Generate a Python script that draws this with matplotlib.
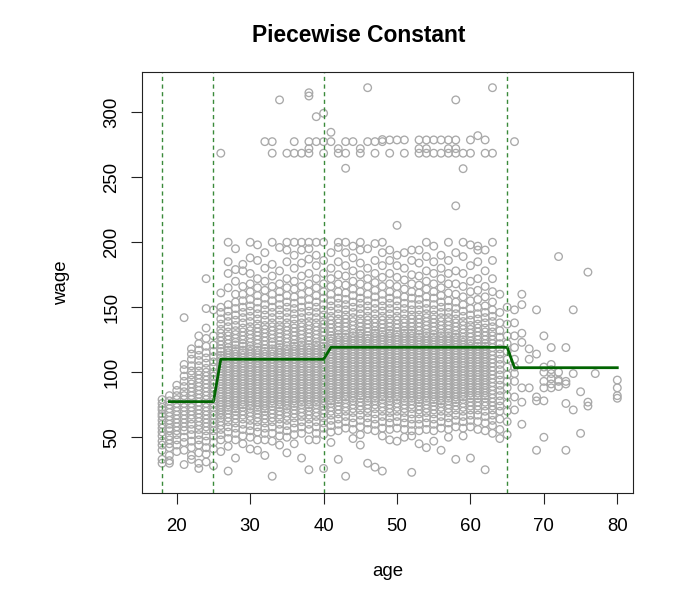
import numpy as np
import matplotlib.pyplot as plt

# CONFIG
OUT_PATH = "out.png"
POINT_COLOR = "darkgrey"
FIT_COLOR = "darkgreen"
KNOT_COLOR = "#3a8a3a"

plt.rcParams["font.family"] = ["Liberation Sans", "DejaVu Sans"]

# 1. STEP FIT (bins are right-closed, levels)
cut_points = [18, 25, 40, 65, 80]
bin_levels = [77.4, 110.0, 119.2, 103.5]
knots = [18, 25, 40, 65]

# 2. POINTS, one string of wages per age column
ages_young = list(range(18, 26))
wages_young = [
    "79 76 73 71 68 66 63 60 57 54 51 47 44 40 33 30",
    "82 78 75 72 69 66 63 60 57 55 51 48 45 42 36 32 30",
    "90 86 82 79 76 73 70 67 64 61 58 55 52 48 44 39",
    "142 106 102 97 93 89 85 82 79 76 73 70 67 64 61 58 55 50 46 40 29",
    "118 114 110 105 101 98 94 91 88 85 82 79 76 73 70 67 64 60 56 52 47 42 36 33",
    "128 122 117 113 109 105 101 98 95 92 89 86 83 80 77 74 71 68 65 62 59 56 52 48 44 38 30 26",
    "172 149 134 126 120 115 111 107 103 100 97 94 91 88 85 82 79 76 73 70 67 64 61 58 55 51 47 42 37 31",
    "148 128 121 116 112 108 104 100 97 94 91 88 85 82 79 76 73 70 67 64 61 58 55 51 46 41 28",
]

ages_mid = list(range(26, 41))
wages_mid = [
    "161 150 146 141 137 133 130 127 124 121 118 116 113 111 109 107 105 103 101 99 97 95 93 91 89 87 85 83 81 79 77 75 73 71 69 67 65 62 59 56 52 48 39",
    "200 185 176 165 152 147 143 139 135 131 128 125 122 119 117 115 113 111 109 107 105 103 101 99 97 95 93 91 89 87 85 83 81 79 77 75 73 71 68 65 62 58 54 49 43 24",
    "195 179 170 160 154 149 144 140 136 132 129 126 123 121 118 116 114 112 110 108 106 104 102 100 98 96 94 92 90 88 86 84 82 80 78 76 74 72 70 67 64 61 57 53 48 34",
    "183 178 166 160 155 150 146 142 138 134 131 128 125 122 120 117 115 113 111 109 107 105 103 101 99 97 95 93 91 89 87 85 83 81 79 77 75 73 70 67 64 60 56 51 45",
    "200 188 176 168 162 156 151 147 143 139 135 132 129 126 123 120 118 116 114 112 110 108 106 104 102 100 98 96 94 92 90 88 86 84 82 80 78 76 74 72 69 66 63 59 55 50 41",
    "198 186 172 165 159 154 149 145 141 137 134 131 128 125 122 119 117 115 113 111 109 107 105 103 101 99 97 95 93 91 89 87 85 83 81 79 77 75 73 71 68 65 62 58 54 48 40",
    "192 180 170 163 157 152 148 144 140 136 133 130 127 124 121 118 116 114 112 110 108 106 104 102 100 98 96 94 92 90 88 86 84 82 80 78 76 74 72 70 67 64 61 57 53 48 36",
    "200 183 174 166 160 155 150 146 142 138 135 132 129 126 123 121 118 116 114 112 110 108 106 104 102 100 98 96 94 92 90 88 86 84 82 80 78 76 74 71 68 65 62 58 53 47 20",
    "196 178 168 162 157 152 148 144 140 136 133 130 127 124 121 119 117 115 113 111 109 107 105 103 101 99 97 95 93 91 89 87 85 83 81 79 77 75 73 70 67 64 60 56 51 44",
    "200 194 185 172 165 159 154 150 146 142 138 135 132 129 126 123 120 118 116 114 112 110 108 106 104 102 100 98 96 94 92 90 88 86 84 82 80 78 76 74 72 69 66 63 59 55 50 38",
    "200 190 180 170 164 158 153 149 145 141 137 134 131 128 125 122 120 118 116 114 112 110 108 106 104 102 100 98 96 94 92 90 88 86 84 82 80 78 76 74 71 68 65 61 57 52 45",
    "200 194 184 174 166 160 155 150 146 142 138 135 132 129 126 123 121 119 117 115 113 111 109 107 105 103 101 99 97 95 93 91 89 87 85 83 81 79 77 75 72 69 66 62 58 53 34",
    "200 195 187 176 168 162 156 151 147 143 139 136 133 130 127 124 121 119 117 115 113 111 109 107 105 103 101 99 97 95 93 91 89 87 85 83 81 79 77 75 73 70 67 64 60 56 48 25",
    "200 190 182 172 165 159 154 150 146 142 138 135 132 129 126 123 121 119 117 115 113 111 109 107 105 103 101 99 97 95 93 91 89 87 85 83 81 79 77 75 72 69 66 62 58 53 48",
    "200 186 176 168 162 157 152 148 144 140 137 134 131 128 125 122 120 118 116 114 112 110 108 106 104 102 100 98 96 94 92 90 88 86 84 82 80 78 76 74 71 68 65 61 57 52 26",
]

ages_older = list(range(41, 66))
wages_older = [
    "192 180 172 166 160 155 151 147 143 140 137 134 131 128 126 124 122 120 118 116 114 112 110 108 106 104 102 100 98 96 94 92 90 88 86 84 82 80 78 76 73 70 67 63 59 54 46",
    "200 196 185 175 168 162 157 153 149 145 141 138 135 132 129 127 125 123 121 119 117 115 113 111 109 107 105 103 101 99 97 95 93 91 89 87 85 83 81 79 77 74 71 68 64 60 55 33",
    "200 192 182 174 167 161 156 152 148 144 141 138 135 132 129 127 125 123 121 119 117 115 113 111 109 107 105 103 101 99 97 95 93 91 89 87 85 83 81 79 76 73 70 66 62 57 20",
    "197 188 178 170 164 159 154 150 146 142 139 136 133 130 128 126 124 122 120 118 116 114 112 110 108 106 104 102 100 98 96 94 92 90 88 86 84 82 80 78 75 72 69 65 61 56 49",
    "200 194 184 175 168 162 157 153 149 145 141 138 135 132 130 128 126 124 122 120 118 116 114 112 110 108 106 104 102 100 98 96 94 92 90 88 86 84 82 80 77 74 71 67 63 58 52 44",
    "195 180 172 166 160 155 151 147 143 140 137 134 131 128 126 124 122 120 118 116 114 112 110 108 106 104 102 100 98 96 94 92 90 88 86 84 82 80 78 75 72 69 65 61 56 30",
    "199 186 176 169 163 158 153 149 145 141 138 135 132 130 128 126 124 122 120 118 116 114 112 110 108 106 104 102 100 98 96 94 92 90 88 86 84 82 80 78 75 72 68 64 60 55 27",
    "200 192 182 173 166 160 155 151 147 143 140 137 134 131 129 127 125 123 121 119 117 115 113 111 109 107 105 103 101 99 97 95 93 91 89 87 85 83 81 79 76 73 70 66 62 57 51 24",
    "194 186 176 168 162 157 153 149 145 141 138 135 132 130 128 126 124 122 120 118 116 114 112 110 108 106 104 102 100 98 96 94 92 90 88 86 84 82 80 78 75 72 69 65 61 56 48",
    "213 190 182 173 166 160 155 151 147 143 140 137 134 131 129 127 125 123 121 119 117 115 113 111 109 107 105 103 101 99 97 95 93 91 89 87 85 83 81 79 76 73 70 66 62 57 47",
    "192 180 171 164 158 153 149 145 141 138 135 132 130 128 126 124 122 120 118 116 114 112 110 108 106 104 102 100 98 96 94 92 90 88 86 84 82 80 78 75 72 69 65 61 56 50",
    "194 186 175 168 162 157 152 148 144 141 138 135 132 130 128 126 124 122 120 118 116 114 112 110 108 106 104 102 100 98 96 94 92 90 88 86 84 82 80 78 75 72 68 64 60 55 51 23",
    "194 184 174 167 161 156 152 148 144 141 138 135 132 129 127 125 123 121 119 117 115 113 111 109 107 105 103 101 99 97 95 93 91 89 87 85 83 81 79 77 74 71 68 64 60 55 45",
    "200 189 178 170 164 158 153 149 145 142 139 136 133 130 128 126 124 122 120 118 116 114 112 110 108 106 104 102 100 98 96 94 92 90 88 86 84 82 80 78 75 72 69 65 61 56 42",
    "197 185 176 168 162 157 152 148 144 141 138 135 132 129 127 125 123 121 119 117 115 113 111 109 107 105 103 101 99 97 95 93 91 89 87 85 83 81 79 77 74 71 68 64 60 55 47",
    "190 180 172 165 159 154 150 146 142 139 136 133 130 128 126 124 122 120 118 116 114 112 110 108 106 104 102 100 98 96 94 92 90 88 86 84 82 80 78 76 73 70 66 62 57 40",
    "200 186 176 168 161 155 150 146 142 139 136 133 130 128 126 124 122 120 118 116 114 112 110 108 106 104 102 100 98 96 94 92 90 88 86 84 82 80 78 75 72 69 65 61 56 50",
    "228 192 178 168 160 154 149 145 141 138 135 132 129 127 125 123 121 119 117 115 113 111 109 107 105 103 101 99 97 95 93 91 89 87 85 83 81 79 77 74 71 67 63 58 33",
    "200 189 176 166 158 152 147 143 139 136 133 130 127 125 123 121 119 117 115 113 111 109 107 105 103 101 99 97 95 93 91 89 87 85 83 81 79 76 73 70 66 62 57 51",
    "198 182 170 162 155 149 144 140 136 133 130 127 124 122 120 118 116 114 112 110 108 106 104 102 100 98 96 94 92 90 88 86 84 82 80 77 74 71 67 63 58 34",
    "197 194 185 172 163 156 150 145 141 137 134 131 128 125 122 120 118 116 114 112 110 108 106 104 102 100 98 96 94 92 90 88 86 84 82 80 77 74 71 67 62 56",
    "194 178 166 158 151 146 142 138 134 131 128 125 122 120 118 116 114 112 110 108 106 104 102 100 98 96 94 92 90 88 86 84 82 80 77 74 70 66 61 55 25",
    "200 186 172 162 154 148 143 139 135 131 128 125 122 119 116 113 110 107 104 101 98 95 92 89 86 83 80 77 74 71 67 63 59 53",
    "160 146 138 132 127 122 118 114 110 106 102 98 94 90 86 82 78 74 70 64 56 49",
    "150 137 128 122 116 110 104 98 93 88 82 76 70 62 52",
]

# sparse points past 65
old_age = [66, 66, 66, 66, 66, 66, 66, 66, 66, 66,
           67, 67, 67, 67, 67, 67, 67,
           68, 68, 68,
           69, 69, 69, 69, 69,
           70, 70, 70, 70, 70, 70, 70,
           71, 71, 71, 71, 71, 71, 71,
           72, 72, 72, 72, 72,
           73, 73, 73, 73, 73,
           74, 74, 74,
           75, 75,
           76, 76, 76,
           77,
           80, 80, 80, 80]
old_wage = [148, 138, 128, 119, 110, 104, 99, 93, 81, 71,
            160, 152, 130, 123, 88, 77, 60,
            118, 110, 88,
            148, 114, 81, 78, 40,
            128, 104, 100, 93, 88, 78, 50,
            119, 106, 102, 99, 95, 91, 88,
            189, 100, 94, 93, 89,
            119, 93, 91, 76, 40,
            148, 99, 71,
            85, 53,
            177, 77, 74,
            99,
            94, 88, 82, 80]

# high earners band (about 250-320)
high_age = [26, 32, 33, 33, 34, 35, 36, 36, 37, 38, 38, 38, 38, 38, 39, 39, 40, 40, 40,
            41, 41, 42, 42, 43, 43, 43, 44, 45, 45, 46, 46, 47, 47, 48, 48, 49, 49, 50,
            51, 51, 53, 53, 53, 54, 54, 54, 55, 55, 56, 56, 57, 57, 57, 58, 58, 58, 58,
            59, 59, 60, 60, 61, 62, 62, 63, 63, 66]
high_wage = [268.5, 277.4, 277.4, 268.5, 309.5, 268.5, 277.4, 268.5, 268.5, 315.0, 312.5,
             277.4, 272.0, 268.5, 296.6, 277.4, 299.2, 277.4, 268.5,
             284.6, 277.4, 272.0, 268.5, 277.4, 268.5, 256.9, 277.4, 272.0, 268.5, 318.9,
             277.4, 277.4, 268.5, 279.0, 277.4, 278.7, 268.5, 278.7,
             278.7, 268.5, 278.7, 272.0, 268.5, 278.7, 272.0, 268.5, 278.7, 268.5, 278.7,
             268.5, 272.0, 268.5, 278.7, 309.5, 278.7, 272.0, 268.5,
             268.5, 256.6, 278.7, 268.5, 282.0, 278.7, 268.5, 318.9, 268.5, 277.4]

X_TICKS = [20, 30, 40, 50, 60, 70, 80]
Y_TICKS = [50, 100, 150, 200, 250, 300]


def expand(ages, cols):
    a, w = [], []
    for age, col in zip(ages, cols):
        vals = [float(v) for v in col.split()]
        a += [age] * len(vals)
        w += vals
    return a, w


age, wage = [], []
for ages, cols in [(ages_young, wages_young), (ages_mid, wages_mid), (ages_older, wages_older)]:
    a, w = expand(ages, cols)
    age += a
    wage += w
age += old_age + high_age
wage += old_wage + high_wage

# fitted step over the age grid (18 falls outside the first right-closed bin)
age_grid = np.arange(19, 81)
bin_idx = np.searchsorted(cut_points, age_grid, side="left") - 1
fit = np.array(bin_levels)[bin_idx]

# 3. PLOT
fig = plt.figure(figsize=(6.88, 6.06), dpi=100)
ax = fig.add_axes([0.2060, 0.1860, 0.7145, 0.6944])

ax.scatter(age, wage, s=30, facecolors="none", edgecolors=POINT_COLOR, linewidths=0.95)
ax.plot(age_grid, fit, color=FIT_COLOR, linewidth=2)
for k in knots:
    ax.axvline(k, color=KNOT_COLOR, linewidth=1.0, linestyle=(0, (3, 2.5)))

ax.set_xlim(15.23, 82.18)
ax.set_ylim(6.9, 330.6)
ax.set_xticks(X_TICKS)
ax.set_yticks(Y_TICKS)
ax.tick_params(axis="both", direction="out", length=7.9, width=0.8, labelsize=13.4, color="#222222")
ax.tick_params(axis="x", pad=9.9)
ax.tick_params(axis="y", pad=7.3, labelrotation=90)
for lab in ax.get_yticklabels():
    lab.set_verticalalignment("center")
for sp in ax.spines.values():
    sp.set_linewidth(0.8)
    sp.set_color("#222222")

fig.text(358.8 / 688, 1 - 36 / 606, "Piecewise Constant", ha="center", va="center",
         fontsize=16.4, fontweight="bold")
fig.text(388 / 688, 1 - 571.4 / 606, "age", ha="center", va="center", fontsize=13.4)
fig.text(61.9 / 688, 1 - 283 / 606, "wage", ha="center", va="center", rotation=90, fontsize=13.4)

fig.savefig(OUT_PATH, dpi=100)
